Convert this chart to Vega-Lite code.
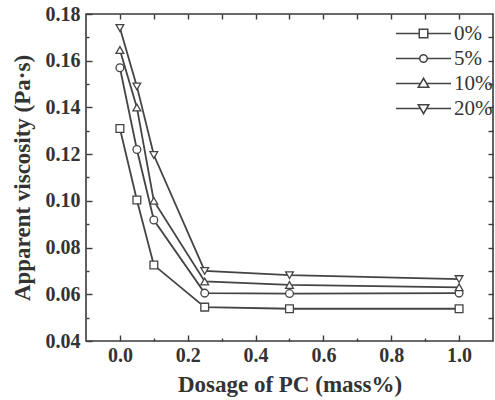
{
  "$schema": "https://vega.github.io/schema/vega-lite/v6.json",
  "width": 407,
  "height": 327,
  "autosize": {"type": "none"},
  "padding": {"left": 86, "top": 14, "right": 2, "bottom": 59},
  "background": "white",
  "config": {
    "view": {"stroke": "#3a3a3a", "strokeWidth": 1.6},
    "font": "Liberation Serif",
    "axis": {"grid": false, "domain": false, "tickColor": "#3a3a3a", "tickWidth": 1.4, "labelFont": "Liberation Serif", "labelFontWeight": "bold", "labelFontSize": 20, "labelColor": "#333", "titleFont": "Liberation Serif", "titleFontWeight": "bold", "titleFontSize": 23, "titleColor": "#333"}
  },
  "data": {
    "values": [
      {"dosage": 0, "viscosity": 0.131, "series": "0%"},
      {"dosage": 0.05, "viscosity": 0.1004, "series": "0%"},
      {"dosage": 0.1, "viscosity": 0.0725, "series": "0%"},
      {"dosage": 0.25, "viscosity": 0.0545, "series": "0%"},
      {"dosage": 0.5, "viscosity": 0.0538, "series": "0%"},
      {"dosage": 1.0, "viscosity": 0.0538, "series": "0%"},
      {"dosage": 0, "viscosity": 0.157, "series": "5%"},
      {"dosage": 0.05, "viscosity": 0.122, "series": "5%"},
      {"dosage": 0.1, "viscosity": 0.0918, "series": "5%"},
      {"dosage": 0.25, "viscosity": 0.0605, "series": "5%"},
      {"dosage": 0.5, "viscosity": 0.0603, "series": "5%"},
      {"dosage": 1.0, "viscosity": 0.0605, "series": "5%"},
      {"dosage": 0, "viscosity": 0.1646, "series": "10%"},
      {"dosage": 0.05, "viscosity": 0.140, "series": "10%"},
      {"dosage": 0.1, "viscosity": 0.100, "series": "10%"},
      {"dosage": 0.25, "viscosity": 0.0655, "series": "10%"},
      {"dosage": 0.5, "viscosity": 0.064, "series": "10%"},
      {"dosage": 1.0, "viscosity": 0.063, "series": "10%"},
      {"dosage": 0, "viscosity": 0.174, "series": "20%"},
      {"dosage": 0.05, "viscosity": 0.149, "series": "20%"},
      {"dosage": 0.1, "viscosity": 0.1196, "series": "20%"},
      {"dosage": 0.25, "viscosity": 0.070, "series": "20%"},
      {"dosage": 0.5, "viscosity": 0.0682, "series": "20%"},
      {"dosage": 1.0, "viscosity": 0.0665, "series": "20%"}
    ]
  },
  "resolve": {"scale": {"shape": "independent"}, "legend": {"shape": "independent"}},
  "layer": [
    {
      "transform": [{"filter": "datum.dosage > 5"}],
      "mark": {"type": "point", "filled": true, "fill": "white", "stroke": "#444", "strokeWidth": 1.3},
      "encoding": {
        "x": {"field": "dosage", "type": "quantitative", "scale": {"domain": [-0.1, 1.1], "nice": false, "zero": false},
              "axis": {"orient": "top", "values": [0, 0.1, 0.2, 0.3, 0.4, 0.5, 0.6, 0.7, 0.8, 0.9, 1.0], "labels": false, "tickSize": -5, "title": null}},
        "y": {"field": "viscosity", "type": "quantitative", "scale": {"domain": [0.04, 0.18], "nice": false, "zero": false},
              "axis": {"orient": "right", "values": [0.05, 0.06, 0.07, 0.08, 0.09, 0.1, 0.11, 0.12, 0.13, 0.14, 0.15, 0.16, 0.17], "labels": false, "tickSize": -5, "title": null}},
        "shape": {"field": "series", "type": "nominal",
                  "scale": {"domain": ["0%", "5%", "10%", "20%"],
                            "range": ["M-2.2,0H-0.34M0.34,0H2.2M-0.34,-0.34H0.34V0.34H-0.34Z",
                                      "M-2.2,0H-0.3M0.3,0H2.2M-0.3,0A0.3,0.3 0 1,0 0.3,0A0.3,0.3 0 1,0 -0.3,0Z",
                                      "M-2.2,0H-0.245M0.245,0H2.2M0,-0.42L0.42,0.3H-0.42Z",
                                      "M-2.2,0H-0.245M0.245,0H2.2M0,0.42L0.42,-0.3H-0.42Z"]},
                  "legend": {"title": null, "orient": "none", "legendX": 324, "legendY": 6, "symbolSize": 625, "symbolOpacity": 1,
                             "labelOffset": 17, "rowPadding": 1,
                             "labelFont": "Liberation Serif", "labelFontSize": 21, "labelColor": "#333"}}
      }
    },
    {
      "mark": {"type": "line", "stroke": "#444", "strokeWidth": 1.8},
      "encoding": {
        "x": {"field": "dosage", "type": "quantitative",
              "axis": {"orient": "bottom", "values": [0, 0.2, 0.4, 0.6, 0.8, 1.0], "format": ".1f", "tickSize": -6, "labelPadding": 10, "title": "Dosage of PC (mass%)", "titlePadding": 8}},
        "y": {"field": "viscosity", "type": "quantitative",
              "axis": {"orient": "left", "values": [0.04, 0.06, 0.08, 0.1, 0.12, 0.14, 0.16, 0.18], "format": ".2f", "tickSize": -6, "labelPadding": 12, "title": "Apparent viscosity (Pa·s)", "titlePadding": 11}},
        "detail": {"field": "series"},
        "order": {"field": "dosage"}
      }
    },
    {
      "mark": {"type": "point", "filled": true, "fill": "white", "stroke": "#444", "strokeWidth": 1.3, "size": 60, "opacity": 1},
      "encoding": {
        "x": {"field": "dosage", "type": "quantitative",
              "axis": {"orient": "bottom", "values": [0.1, 0.3, 0.5, 0.7, 0.9], "labels": false, "tickSize": -3, "title": null}},
        "y": {"field": "viscosity", "type": "quantitative",
              "axis": {"orient": "left", "values": [0.05, 0.07, 0.09, 0.11, 0.13, 0.15, 0.17], "labels": false, "tickSize": -3, "title": null}},
        "shape": {"field": "series", "type": "nominal",
                  "scale": {"domain": ["0%", "5%", "10%", "20%"], "range": ["square", "circle", "triangle-up", "triangle-down"]},
                  "legend": null}
      }
    }
  ]
}
